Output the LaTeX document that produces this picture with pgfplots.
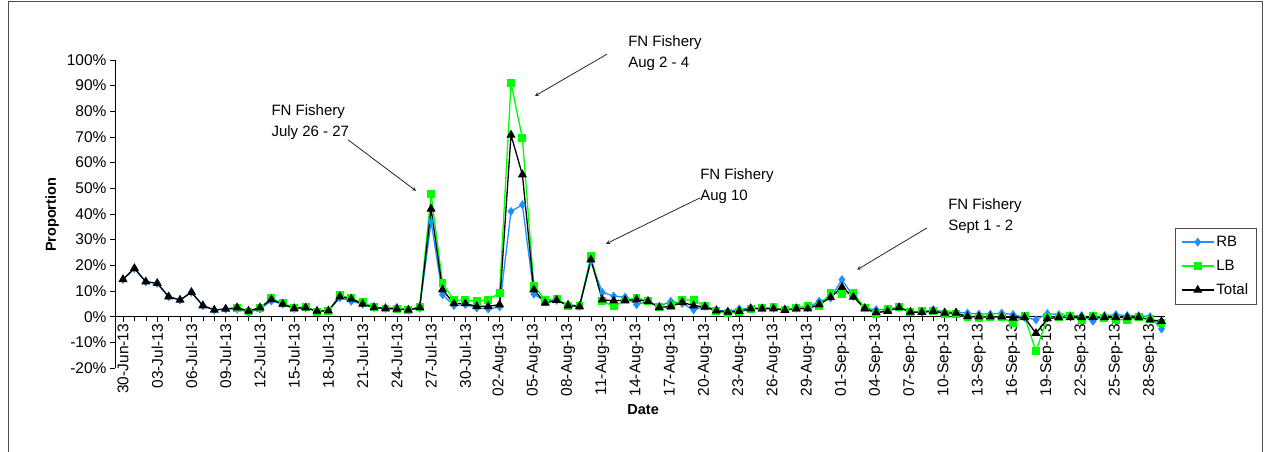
\documentclass[border=0pt]{standalone}
\usepackage{pgfplots}
\pgfplotsset{compat=1.18}
\usepackage{pgfplotstable}
\usepackage{fontspec}
\setmainfont{Liberation Sans}
\definecolor{rbblue}{RGB}{30,144,255}
\definecolor{lbgreen}{RGB}{0,255,0}

\pgfplotstableread{
d RB LB Total
0 14.5 nan 14.5
1 18.8 nan 18.8
2 13.6 nan 13.6
3 13.0 nan 13.0
4 7.8 nan 7.8
5 6.5 nan 6.5
6 9.5 nan 9.5
7 4.3 nan 4.3
8 2.6 nan 2.6
9 3.0 nan 3.0
10 3.0 3.5 3.5
11 1.7 2.0 2.2
12 3.0 3.5 3.5
13 6.1 7.1 6.7
14 4.9 5.2 4.9
15 3.2 3.5 3.2
16 3.5 3.9 3.5
17 2.2 1.7 2.2
18 2.3 2.3 2.3
19 7.4 8.4 7.8
20 6.0 7.1 6.9
21 4.9 5.6 4.9
22 3.6 3.6 3.6
23 3.2 3.2 3.2
24 3.6 3.0 3.0
25 2.6 2.6 2.6
26 3.3 3.9 3.6
27 37.0 47.7 42.0
28 8.6 13.1 10.5
29 4.3 6.4 5.1
30 4.7 6.4 5.1
31 3.4 6.0 4.0
32 3.0 6.6 4.0
33 3.8 9.2 4.7
34 41.0 90.9 70.8
35 43.6 69.5 55.3
36 8.8 12.1 10.5
37 6.0 6.4 5.3
38 6.4 6.9 6.4
39 4.9 4.3 4.3
40 4.0 4.0 4.0
41 21.5 23.5 22.2
42 9.5 6.1 6.6
43 8.0 4.0 6.2
44 7.6 6.3 6.4
45 4.7 7.4 6.6
46 6.0 6.0 6.0
47 4.0 3.8 3.6
48 6.0 4.0 4.0
49 5.1 6.4 5.6
50 2.7 6.6 4.3
51 4.0 4.0 3.8
52 2.7 2.1 2.3
53 2.0 1.4 1.8
54 3.0 1.7 2.1
55 3.4 3.1 3.1
56 3.3 3.4 3.1
57 3.3 3.6 3.1
58 3.0 2.8 2.5
59 3.3 3.4 3.1
60 3.5 4.3 3.1
61 6.0 4.3 4.7
62 7.3 9.2 7.5
63 14.4 8.9 11.5
64 7.9 9.2 7.7
65 3.4 3.4 3.2
66 2.7 1.0 1.6
67 2.7 3.0 2.1
68 3.6 3.8 3.6
69 1.8 1.8 1.8
70 1.8 2.1 1.7
71 2.7 2.1 2.1
72 1.8 1.0 1.4
73 1.8 1.2 1.4
74 1.4 -0.1 0.1
75 1.0 -0.5 0.0
76 1.0 -0.1 0.0
77 1.4 -0.3 0.0
78 0.8 -2.5 -0.5
79 -0.3 0.1 -0.3
80 -1.2 -13.5 -6.5
81 1.2 -0.3 -0.8
82 0.8 -0.3 -0.3
83 0.4 0.1 -0.3
84 0.4 -1.2 -0.3
85 -1.8 0.1 -0.3
86 0.4 -0.5 -0.3
87 0.8 -1.2 -0.3
88 0.4 -1.2 -0.3
89 0.4 -0.3 -0.3
90 0.0 -0.9 -1.2
91 -4.8 -2.5 -1.8
}\data

\begin{document}
\begin{tikzpicture}
\useasboundingbox (0pt,0pt) rectangle (1266pt,452pt);
\draw[black!70, line width=1pt] (8pt,-2pt) -- (8pt,450pt) -- (1262pt,450pt) -- (1262pt,-2pt);
\begin{axis}[
  at={(115pt,84pt)}, anchor=south west,
  scale only axis, width=1050pt, height=308pt,
  xmin=-0.7, xmax=91.3, ymin=-20, ymax=100,
  axis x line*=middle, axis y line*=left,
  axis line style={black, line width=0.8pt},
  clip=false,
  hide obscured x ticks=false, hide obscured y ticks=false,
  ytick={-20,-10,...,100},
  yticklabel={\pgfmathprintnumber[assume math mode=true]{\tick}\%},
  xtick={0,3,...,90},
  minor xtick={0,1,...,91},
  xticklabels={30-Jun-13,03-Jul-13,06-Jul-13,09-Jul-13,12-Jul-13,15-Jul-13,18-Jul-13,21-Jul-13,24-Jul-13,27-Jul-13,30-Jul-13,02-Aug-13,05-Aug-13,08-Aug-13,11-Aug-13,14-Aug-13,17-Aug-13,20-Aug-13,23-Aug-13,26-Aug-13,29-Aug-13,01-Sep-13,04-Sep-13,07-Sep-13,10-Sep-13,13-Sep-13,16-Sep-13,19-Sep-13,22-Sep-13,25-Sep-13,28-Sep-13},
  xticklabel style={rotate=90, anchor=east, inner sep=2pt},
  tick label style={font=\fontsize{15.5}{17}\selectfont},
  tick align=outside,
  major tick length=5pt, minor tick length=4pt,
  every tick/.style={black, line width=0.6pt},
  xlabel={Date}, ylabel={Proportion},
  label style={font=\fontsize{14.5}{16}\selectfont\bfseries},
  x label style={at={(axis description cs:0.503,-0.136)}, anchor=center},
  y label style={at={(axis description cs:-0.06,0.497)}, anchor=center, rotate=0},
  legend style={at={(axis description cs:1.0095,0.4545)}, anchor=north west,
    draw=black!70, font=\fontsize{15}{17}\selectfont, row sep=8pt,
    inner xsep=6pt, inner ysep=6pt},
  legend cell align=left,
  legend image code/.code={%
    \draw[mark repeat=2, mark phase=2] plot coordinates {(0pt,0pt) (16pt,0pt) (32pt,0pt)};},
]
\addplot[rbblue, line width=1.3pt, mark=diamond*, mark size=3.5pt, mark options={fill=rbblue, draw=rbblue}]
  table[x=d, y=RB] {\data};
\addlegendentry{RB}
\addplot[lbgreen, line width=1.3pt, mark=square*, mark size=3.3pt, mark options={fill=lbgreen, draw=lbgreen}]
  table[x=d, y=LB] {\data};
\addlegendentry{LB}
\addplot[black, line width=1.3pt, mark=triangle*, mark size=4pt, mark options={fill=black, draw=black}]
  table[x=d, y=Total] {\data};
\addlegendentry{Total}

\node[anchor=north west, align=left, font=\fontsize{15}{21}\selectfont, inner sep=0pt] at (axis cs:13.0,82.5) {FN Fishery\\July 26 - 27};
\node[anchor=north west, align=left, font=\fontsize{15}{21}\selectfont, inner sep=0pt] at (axis cs:44.26,109.7) {FN Fishery\\Aug 2 - 4};
\node[anchor=north west, align=left, font=\fontsize{15}{21}\selectfont, inner sep=0pt] at (axis cs:50.57,57.6) {FN Fishery\\Aug 10};
\node[anchor=north west, align=left, font=\fontsize{15}{21}\selectfont, inner sep=0pt] at (axis cs:72.3,45.9) {FN Fishery\\Sept 1 - 2};
\draw[-stealth, line width=0.8pt, black!85] (axis cs:19.72,68.9) -- (axis cs:25.68,49.0);
\draw[-stealth, line width=0.8pt, black!85] (axis cs:42.42,102.3) -- (axis cs:36.1,86.0);
\draw[-stealth, line width=0.8pt, black!85] (axis cs:50.57,46.3) -- (axis cs:42.33,28.4);
\draw[-stealth, line width=0.8pt, black!85] (axis cs:70.46,34.6) -- (axis cs:64.33,18.3);
\end{axis}
\end{tikzpicture}
\end{document}
